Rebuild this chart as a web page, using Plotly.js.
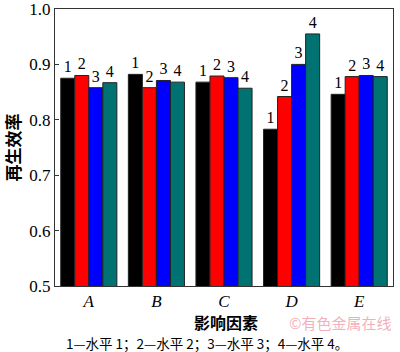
<!DOCTYPE html>
<html>
<head>
<meta charset="utf-8">
<script src="https://cdn.plot.ly/plotly-3.0.1.min.js"></script>
<style>html,body{margin:0;padding:0;background:#fff;}#chart{width:400px;height:352px;}</style>
</head>
<body>
<div id="chart"></div>
<script>
const categories = ['A', 'B', 'C', 'D', 'E'];
const seriesNames = ['1', '2', '3', '4'];
const level1 = [0.875, 0.882, 0.868, 0.783, 0.846];
const level2 = [0.880, 0.858, 0.879, 0.842, 0.878];
const level3 = [0.858, 0.871, 0.876, 0.900, 0.880];
const level4 = [0.867, 0.868, 0.857, 0.955, 0.878];
const colors = ['#000000', '#ff0000', '#0000ff', '#007272'];
const yTicks = [0.5, 0.6, 0.7, 0.8, 0.9, 1.0];
const yTickLabels = ['0.5', '0.6', '0.7', '0.8', '0.9', '1.0'];

const serif = '"Liberation Serif", "Times New Roman", serif';
const cjk = '"Noto Sans CJK SC", sans-serif';

const allSeries = [level1, level2, level3, level4];
const data = allSeries.map((vals, i) => ({
  type: 'bar',
  x: categories,
  y: vals,
  name: seriesNames[i],
  text: vals.map(() => seriesNames[i]),
  textposition: 'outside',
  textfont: {family: serif, size: 16, color: '#000'},
  cliponaxis: false,
  marker: {color: colors[i], line: {color: '#222', width: 1}},
  hoverinfo: 'none'
}));

const layout = {
  width: 400, height: 352,
  margin: {l: 55, r: 7, t: 9, b: 66},
  paper_bgcolor: '#ffffff',
  plot_bgcolor: '#ffffff',
  showlegend: false,
  barmode: 'group',
  bargap: 0.17,
  bargroupgap: 0,
  xaxis: {
    tickvals: categories,
    ticktext: categories.map(c => '<i>' + c + '</i>'),
    tickfont: {family: serif, size: 17, color: '#000'},
    showline: true, linecolor: '#333', linewidth: 1, mirror: true,
    ticks: '', showgrid: false, zeroline: false
  },
  yaxis: {
    range: [0.5, 1.0],
    tickvals: yTicks,
    ticktext: yTickLabels,
    ticklabeloverflow: 'allow',
    tickfont: {family: serif, size: 17, color: '#000'},
    ticks: 'inside', ticklen: 4, tickcolor: '#333',
    showline: true, linecolor: '#333', linewidth: 1, mirror: true,
    showgrid: false, zeroline: false,
    title: {text: '<b>再生效率</b>', font: {family: cjk, size: 17, color: '#000'}, standoff: 6}
  },
  annotations: [
    {text: '<b>影响因素</b>', xref: 'paper', yref: 'paper', x: 0.505, y: -0.13, xanchor: 'center', yanchor: 'middle', showarrow: false, font: {family: cjk, size: 16, color: '#000'}},
    {text: '1—水平 1；2—水平 2；3—水平 3；4—水平 4。', xref: 'paper', yref: 'paper', x: 0.45, y: -0.207, xanchor: 'center', yanchor: 'middle', showarrow: false, font: {family: cjk, size: 13.5, color: '#000'}},
    {text: '©有色金属在线', xref: 'paper', yref: 'paper', x: 1.0, y: -0.13, xanchor: 'right', yanchor: 'middle', showarrow: false, font: {family: cjk, size: 15, color: 'rgba(235,120,140,0.6)'}}
  ]
};

Plotly.newPlot('chart', data, layout, {staticPlot: true, displayModeBar: false});
</script>
</body>
</html>
